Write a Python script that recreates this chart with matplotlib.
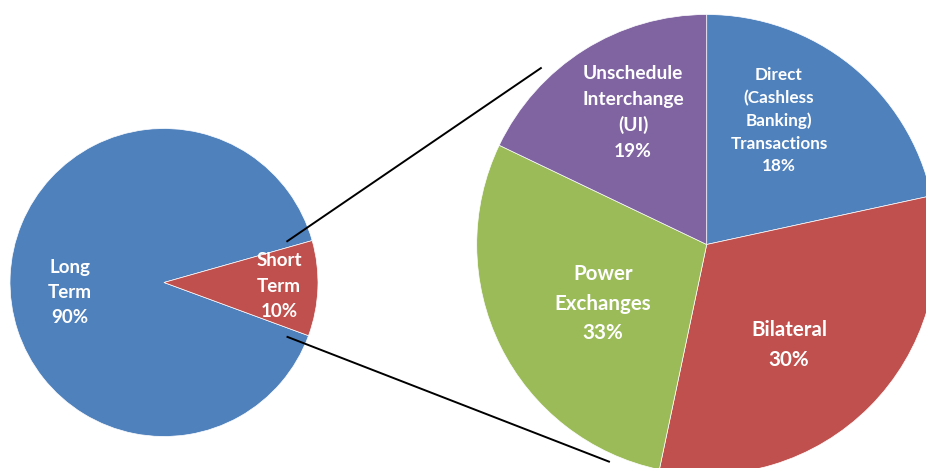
import numpy as np
import matplotlib.pyplot as plt

W, H = 926, 468

# main pie
main_names = ['Long\nTerm', 'Short\nTerm']
main_values = [90, 10]
main_pct = ['90%', '10%']

# breakdown of the short-term slice
sub_names = ['Direct\n(Cashless\nBanking)\nTransactions', 'Bilateral',
             'Power\nExchanges', 'Unschedule\nInterchange\n(UI)']
sub_pct = ['18%', '30%', '33%', '19%']
# slice sizes as drawn in the original (printed percentages don't match the angles exactly)
sub_values = [21.6, 31.7, 28.8, 17.9]

BLUE, RED, GREEN, PURPLE = '#4F81BD', '#C0504D', '#9BBB59', '#8064A2'

# layout, in pixels (y measured from the bottom)
left_c, left_r = (164, H - 282.5), 154
right_c, right_r = (706.7, H - 244.5), 230
# (position, font size, line spacing)
main_text = [((70, H - 292.5), 13.5, 1.6), ((279, H - 286), 13.5, 1.6)]
sub_text = [((779, H - 120.5), 12.3, 1.5), ((789, H - 345), 14.8, 1.65),
            ((603, H - 303.5), 14.8, 1.62), ((633, H - 112.5), 13.8, 1.58)]
# (angle deg, radius fraction) on the left pie -> on the right pie
connectors = [((18.4, 0.838), (133, 1.052)), ((-23.8, 0.87), (-114, 1.035))]

fig = plt.figure(figsize=(W / 100, H / 100), dpi=100)
ax = fig.add_axes([0, 0, 1, 1])

wp = dict(edgecolor='white', linewidth=0.5)
ax.pie(main_values, colors=[BLUE, RED], startangle=15.8, counterclock=True,
       center=left_c, radius=left_r, wedgeprops=wp)
ax.pie(sub_values, colors=[BLUE, RED, GREEN, PURPLE], startangle=90, counterclock=False,
       center=right_c, radius=right_r, wedgeprops=wp)


def polar(c, r, ang, frac):
    a = np.radians(ang)
    return c[0] + r * frac * np.cos(a), c[1] + r * frac * np.sin(a)


for (a1, f1), (a2, f2) in connectors:
    x1, y1 = polar(left_c, left_r, a1, f1)
    x2, y2 = polar(right_c, right_r, a2, f2)
    ax.plot([x1, x2], [y1, y2], color='black', linewidth=1.4, solid_capstyle='butt')

for name, pct, (pos, size, ls) in zip(main_names + sub_names, main_pct + sub_pct, main_text + sub_text):
    ax.text(pos[0], pos[1], f"{name}\n{pct}", ha='center', va='center', multialignment='center',
            color='white', fontsize=size, fontweight='bold', family='Lato', linespacing=ls)

ax.set_xlim(0, W)
ax.set_ylim(0, H)
ax.set_aspect('equal')
ax.axis('off')

fig.savefig('out.png', dpi=100)
